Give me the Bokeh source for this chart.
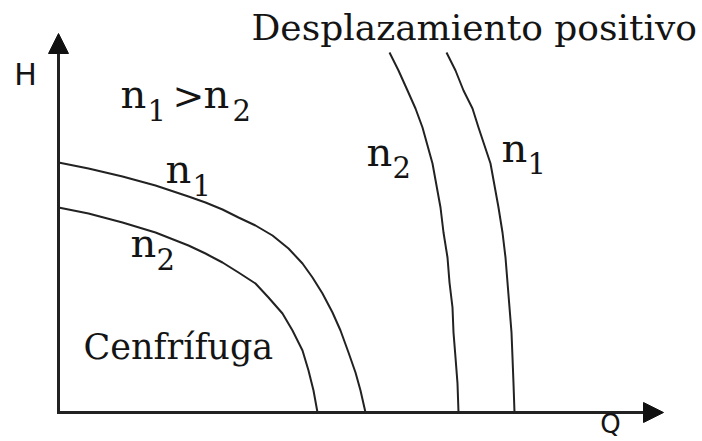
from bokeh.plotting import figure
from bokeh.models import Range1d, Arrow, NormalHead
from bokeh.core.properties import value
from bokeh.embed import file_html
from bokeh.resources import INLINE

# ---- data (Q, H in arbitrary units) ----
cent_n1_q = [0, 30, 64, 97, 130, 147, 164, 180, 197, 214, 230, 244, 254, 264, 274, 282, 290, 297, 302, 307]
cent_n1_h = [250, 244, 236, 227, 216, 210, 203, 195, 187, 177, 164, 149, 135, 119, 100, 82, 60, 40, 22, 0]

cent_n2_q = [0, 30, 64, 97, 130, 147, 164, 180, 197, 210, 224, 234, 244, 250, 255, 259]
cent_n2_h = [205, 199, 190, 180, 167, 159, 150, 140, 129, 115, 99, 82, 62, 42, 22, 0]

pd_n2_q = [331, 340, 349, 357, 364, 369, 374, 378, 382, 385, 389, 391, 394, 395, 397, 399, 400]
pd_n2_h = [360, 342, 322, 304, 285, 267, 249, 227, 205, 180, 155, 130, 105, 80, 55, 29, 0]

pd_n1_q = [388, 397, 405, 414, 420, 426, 432, 436, 440, 444, 447, 449, 451, 453, 454, 455, 456]
pd_n1_h = [360, 342, 322, 304, 285, 267, 249, 227, 205, 180, 155, 130, 105, 80, 55, 29, 0]

axis_q_max = 605
axis_h_max = 379

# labels: speed symbols "n" with subscripts
main_text = ["n", "n", "n", "n", "n", "n"]
main_q = [62, 145, 107, 72, 308, 443]
main_h = [319, 319, 244, 170, 261, 265]
sub_text = ["1", "2", "1", "2", "2", "1"]
sub_q = [89, 174, 134, 98, 334, 469]
sub_h = [303, 303, 228, 154, 246, 250]
gt_q, gt_h = 114, 317

title_pd = "Desplazamiento positivo"
title_c = "Cenfrífuga"
axis_h_label = "H"
axis_q_label = "Q"

INK = "#141414"
LINE = "#222222"
SERIF = value("DejaVu Serif")
SANS = value("DejaVu Sans")

p = figure(width=702, height=441, output_backend="svg", toolbar_location=None,
           x_range=Range1d(-58, 644), y_range=Range1d(-29, 412),
           x_axis_type=None, y_axis_type=None, min_border=0,
           outline_line_color=None, background_fill_color="white",
           border_fill_color="white")
p.grid.visible = False

# axes (L shape) with arrow heads
p.line([0, 0, axis_q_max - 15], [axis_h_max - 15, 0, 0], line_width=3, line_color=LINE,
       line_join="miter")
p.add_layout(Arrow(end=NormalHead(size=20, fill_color="#111111", line_color="#111111", line_width=1),
                   x_start=0, y_start=axis_h_max - 20, x_end=0, y_end=axis_h_max,
                   line_width=3, line_color=LINE))
p.add_layout(Arrow(end=NormalHead(size=20, fill_color="#111111", line_color="#111111", line_width=1),
                   x_start=axis_q_max - 20, y_start=0, x_end=axis_q_max, y_end=0,
                   line_width=3, line_color=LINE))

# curves
for qs, hs in [(cent_n1_q, cent_n1_h), (cent_n2_q, cent_n2_h),
               (pd_n2_q, pd_n2_h), (pd_n1_q, pd_n1_h)]:
    p.line(qs, hs, line_width=2, line_color=LINE, line_join="round")

# labels
p.text(x=main_q, y=main_h, text=main_text, text_font=SERIF,
       text_font_size="40px", text_color=INK, text_baseline="alphabetic",
       text_align="left")
p.text(x=[gt_q], y=[gt_h], text=[">"], text_font=SERIF, text_font_size="38px",
       text_color=INK, text_baseline="alphabetic", text_align="left")
p.text(x=sub_q, y=sub_h, text=sub_text, text_font=SERIF, text_font_size="29px",
       text_color=INK, text_baseline="alphabetic", text_align="left")
p.text(x=[193], y=[385], text=[title_pd], text_font=SERIF, text_font_size="36px",
       text_color=INK, text_baseline="alphabetic", text_align="left")
p.text(x=[25], y=[66], text=[title_c], text_font=SERIF, text_font_size="35px",
       text_color=INK, text_baseline="alphabetic", text_align="left")
p.text(x=[-33], y=[338], text=[axis_h_label], text_font=SANS, text_font_size="30px",
       text_color=INK, text_baseline="alphabetic", text_align="center")
p.text(x=[552], y=[-11], text=[axis_q_label], text_font=SANS, text_font_size="26px",
       text_color=INK, text_baseline="alphabetic", text_align="center")

open("out.html", "w").write(file_html(p, INLINE))
